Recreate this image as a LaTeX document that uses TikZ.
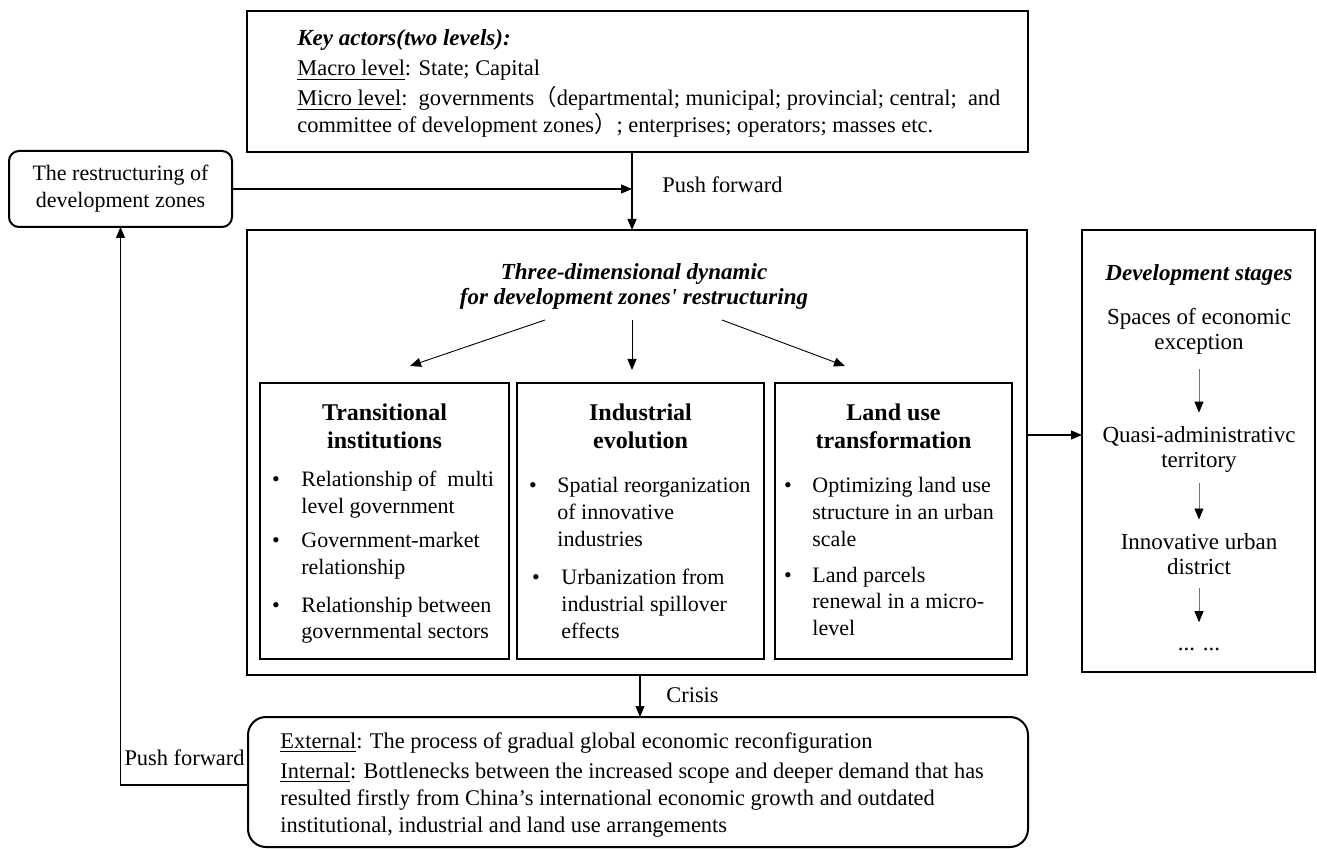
\documentclass[tikz,border=0pt]{standalone}
\usepackage{fontspec}
\setmainfont{Liberation Serif}
\newfontfamily\cjkfont{Noto Sans CJK SC}
\usetikzlibrary{arrows.meta}
\begin{document}
\begin{tikzpicture}[x=0.5pt,y=-0.5pt,
  box/.style={draw, line width=1pt, inner sep=0pt, outer sep=0pt, anchor=north west},
  rbox/.style={box, rounded corners=5pt},
  conn/.style={line width=0.6pt, -{Triangle[length=5.5pt,width=4.5pt]}},
  sarr/.style={draw=black!55, line width=0.45pt, -{Triangle[length=5.5pt,width=4.5pt,color=black]}},
  body/.style={font=\fontsize{11.2}{13.5}\selectfont, inner sep=0pt, anchor=base west},
  item/.style={font=\fontsize{11}{13.3}\selectfont, inner sep=0pt, anchor=base west, align=left},
  bul/.style={font=\fontsize{11}{13.3}\selectfont, inner sep=0pt, anchor=base},
  head/.style={font=\fontsize{12}{14}\selectfont\bfseries, inner sep=0pt, align=center},
  bihead/.style={font=\fontsize{11.5}{12.5}\selectfont\bfseries\itshape, inner sep=0pt, align=center},
  stage/.style={font=\fontsize{11.5}{12.5}\selectfont, inner sep=0pt, align=center}
]
\useasboundingbox (0,0) rectangle (1317,849);

% ---------- key actors ----------
\node[box, minimum width=390.5pt, minimum height=70.5pt] (actors) at (247,11) {};
\node[body, font=\fontsize{11.5}{13}\selectfont\bfseries\itshape] (ka) at (297,46) {Key actors(two levels):};
\node[body] (macro) at (297,76) {\underline{Macro level}: State; Capital};
\node[body] (micro) at (297,106) {\underline{Micro level}:\ \ governments{\cjkfont （}departmental; municipal; provincial; central;\ \ and};
\node[body] (micro2) at (297,133) {committee of development zones{\cjkfont ）}; enterprises; operators; masses etc.};

% ---------- restructuring ----------
\node[rbox, align=center, font=\fontsize{11}{13.5}\selectfont, minimum width=111.5pt, minimum height=38pt] (restr) at (9,151) {The restructuring of\\development zones};

\coordinate (j) at (632,189);
\draw[conn] (restr.east) -- (j);

% ---------- main box ----------
\node[box, minimum width=390pt, minimum height=222.5pt] (main) at (247,230) {};
\draw[conn] (actors.south -| j) -- (main.north -| j);
\node[body] (pf1) at (662,193) {Push forward};

\node[bihead] (ttl) at (634,286) {Three-dimensional dynamic\\for development zones\textquotesingle{} restructuring};

\coordinate (t1) at (545,320); \coordinate (e1) at (410,366);
\coordinate (t2) at (632,320); \coordinate (e2) at (632,370);
\coordinate (t3) at (722,320); \coordinate (e3) at (845,366);
\draw[conn, line width=0.45pt] (t1) -- (e1);
\draw[conn, line width=0.45pt] (t2) -- (e2);
\draw[conn, line width=0.45pt] (t3) -- (e3);

% ---------- sub boxes ----------
\node[box, minimum width=124.5pt, minimum height=138pt] (sub1) at (260,383) {};
\node[box, minimum width=123.5pt, minimum height=138pt] (sub2) at (517,383) {};
\node[box, minimum width=118.5pt, minimum height=138pt] (sub3) at (775,383) {};

\node[head] (h1) at (sub1.north |- 0,426) {Transitional\\institutions};
\node[head] (h2) at (sub2.north |- 0,426) {Industrial\\evolution};
\node[head] (h3) at (sub3.north |- 0,426) {Land use\\transformation};

% multi-line item nodes are anchored at the baseline of their last line
\node[bul] (b11) at (276,487) {\textbullet};
\node[item] (i11) at (301,513.6) {Relationship of\ \ multi\\level government};
\node[bul] (b12) at (276,548) {\textbullet};
\node[item] (i12) at (301,574.6) {Government-market\\relationship};
\node[bul] (b13) at (276,612) {\textbullet};
\node[item] (i13) at (301,638.6) {Relationship between\\governmental sectors};

\node[bul] (b21) at (533,493) {\textbullet};
\node[item] (i21) at (557,546.2) {Spatial reorganization\\of innovative\\industries};
\node[bul] (b22) at (536,585) {\textbullet};
\node[item] (i22) at (561,638.2) {Urbanization from\\industrial spillover\\effects};

\node[bul] (b31) at (788,493) {\textbullet};
\node[item] (i31) at (812,546.2) {Optimizing land use\\structure in an urban\\scale};
\node[bul] (b32) at (788,582) {\textbullet};
\node[item] (i32) at (812,635.2) {Land parcels\\renewal in a micro-\\level};

% ---------- development stages ----------
\node[box, minimum width=116.5pt, minimum height=221pt] (dev) at (1082,230) {};
\coordinate (md) at (1050,435);
\draw[conn] (main.east |- md) -- (dev.west |- md);

\node[bihead] (devt) at (1199,275) {Development stages};
\node[stage] (s1) at (1199,331) {Spaces of economic\\exception};
\node[stage] (s2) at (1199,450) {Quasi-administrativc\\territory};
\node[stage] (s3) at (1199,554.5) {Innovative urban\\district};
\node[stage, anchor=base] (s4) at (1199,650) {... ...};
\draw[sarr] ([yshift=-7.5pt]s1.south) -- ([yshift=7pt]s2.north);
\draw[sarr] ([yshift=-5pt]s2.south) -- ([yshift=7pt]s3.north);
\draw[sarr] ([yshift=-6.5pt]s3.south) -- ([yshift=12.5pt]s4.north);

% ---------- crisis ----------
\node[rbox, rounded corners=9pt, minimum width=390pt, minimum height=65pt] (bot) at (248,717) {};
\coordinate (cr) at (640,700);
\draw[conn] (main.south -| cr) -- (bot.north -| cr);
\node[body] (crl) at (666,702) {Crisis};

\node[body] (ext) at (280,748) {\underline{External}: The process of gradual global economic reconfiguration};
\node[item, font=\fontsize{11.2}{13.5}\selectfont] (int) at (280,832) {\underline{Internal}: Bottlenecks between the increased scope and deeper demand that has\\resulted firstly from China’s international economic growth and outdated\\institutional, industrial and land use arrangements};

\coordinate (lp) at (0,785);
\draw[conn] (bot.west |- lp) -| (restr.south);
\node[body, anchor=base east] (pf2) at (245,765) {Push forward};

\end{tikzpicture}
\end{document}
